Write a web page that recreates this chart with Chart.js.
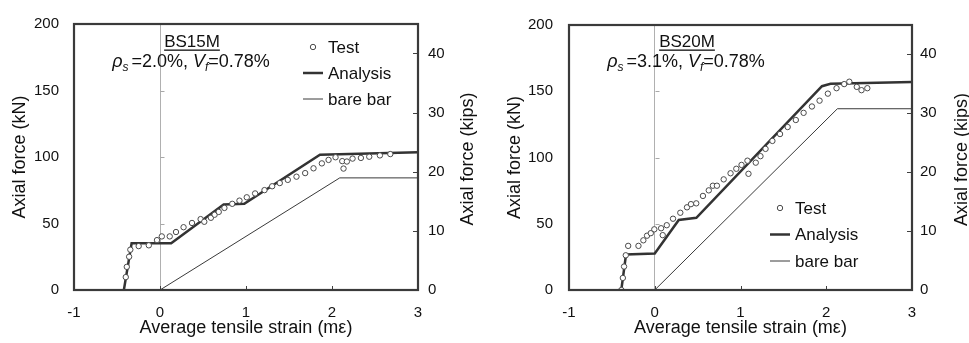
<!DOCTYPE html>
<html><head><meta charset="utf-8">
<script src="https://cdn.jsdelivr.net/npm/chart.js@4.4.1/dist/chart.umd.min.js"></script>
<style>
html,body{margin:0;padding:0;background:#fff;}
#wrap{display:flex;width:969px;height:343px;}
canvas{display:block;}
</style>
</head><body>
<div id="wrap"><canvas id="c1" width="484" height="343"></canvas><canvas id="c2" width="485" height="343"></canvas></div>
<script>
// ---------- data ----------
const strainRange = [-1, 3];          // x axis (mε)
const kNRange = [0, 200];             // left axis (kN)
const KN_PER_KIP = 4.448;             // right axis (kips) = kN / 4.448

const seriesNames = ['Test', 'Analysis', 'bare bar'];

// BS15M
const bs15TestX = [-0.398,-0.386,-0.359,-0.345,-0.248,-0.130,-0.035,0.021,0.113,0.186,0.274,0.372,0.472,0.515,0.592,0.635,0.683,0.749,0.840,0.924,1.009,1.106,1.215,1.304,1.393,1.486,1.587,1.688,1.785,1.882,1.960,2.041,2.119,2.134,2.173,2.239,2.336,2.433,2.557,2.678];
const bs15TestY = [9.7,17.4,25.0,30.3,33.0,33.6,37.5,40.3,40.3,43.6,47.2,50.4,53.3,51.3,54.3,56.6,58.7,61.7,64.8,67.2,69.7,72.6,75.1,78.0,80.4,82.8,85.2,87.9,91.5,95.2,97.8,99.8,96.9,91.3,96.6,98.8,99.3,100.2,101.2,102.2];
const bs15AnaX = [-0.42,-0.33,0.13,0.74,0.98,1.86,3.0];
const bs15AnaY = [0,35.1,35.1,64.3,64.8,101.7,103.6];
const bs15BareX = [0,2.09,3.0];
const bs15BareY = [0,84.3,84.3];

// BS20M
const bs20TestX = [-0.389,-0.372,-0.358,-0.338,-0.310,-0.190,-0.133,-0.090,-0.046,-0.005,0.074,0.093,0.140,0.213,0.298,0.376,0.422,0.484,0.562,0.630,0.678,0.725,0.804,0.884,0.951,1.012,1.081,1.093,1.178,1.233,1.292,1.372,1.461,1.550,1.645,1.736,1.833,1.922,2.019,2.120,2.209,2.269,2.356,2.411,2.479];
const bs20TestY = [0,9.1,17.7,26.2,33.3,33.3,37.5,41.0,42.9,45.8,46.6,41.4,48.9,53.8,58.3,62.4,64.8,65.4,71.0,75.2,78.7,78.7,83.5,88.1,91.5,94.4,97.6,87.7,96.1,101.0,106.5,112.5,117.7,123.0,128.3,133.7,138.5,142.9,148.2,152.3,155.4,157.2,153.3,150.8,152.3];
const bs20AnaX = [-0.39,-0.335,0.0,0.28,0.485,1.95,2.05,3.0];
const bs20AnaY = [0,26.8,27.5,52.8,54.5,153.8,155.6,156.9];
const bs20BareX = [0,2.13,3.0];
const bs20BareY = [0,136.8,136.8];

// ---------- helpers ----------
const FONT = '"Liberation Sans", Arial, Helvetica, sans-serif';
const pts = (xs, ys) => xs.map((x, i) => ({x, y: ys[i]}));

const decor = {
  id: 'decor',
  afterDraw(chart, args, o) {
    const ctx = chart.ctx, a = chart.chartArea;
    const xs = chart.scales.x, ys = chart.scales.y, y2 = chart.scales.y2;
    ctx.save();
    // inward ticks on x axis
    ctx.strokeStyle = '#404040'; ctx.lineWidth = 1;
    ctx.beginPath();
    xs.ticks.forEach(t => { const px = Math.round(xs.getPixelForValue(t.value)) + 0.5; ctx.moveTo(px, a.bottom); ctx.lineTo(px, a.bottom - 4); });
    ctx.stroke();
    // ticks on zero line
    const x0 = Math.round(xs.getPixelForValue(0)) + 0.5;
    ctx.strokeStyle = '#a8a8a8';
    ctx.beginPath();
    ys.ticks.forEach(t => { const py = Math.round(ys.getPixelForValue(t.value)) + 0.5; ctx.moveTo(x0, py); ctx.lineTo(x0 + 4, py); });
    ctx.stroke();
    // inward ticks on right axis
    ctx.strokeStyle = '#404040';
    ctx.beginPath();
    y2.ticks.forEach(t => { const py = Math.round(y2.getPixelForValue(t.value)) + 0.5; ctx.moveTo(a.right, py); ctx.lineTo(a.right - 5, py); });
    ctx.stroke();
    // frame
    ctx.lineWidth = 2.2; ctx.strokeStyle = '#3a3a3a';
    ctx.strokeRect(a.left, a.top, a.right - a.left, a.bottom - a.top);
    // right axis title (reads bottom-to-top)
    ctx.save();
    ctx.fillStyle = '#111';
    ctx.font = '18px ' + FONT;
    ctx.translate(o.rightTitleX, (a.top + a.bottom) / 2 + 2);
    ctx.rotate(-Math.PI / 2);
    ctx.textAlign = 'center'; ctx.textBaseline = 'middle';
    ctx.fillText(o.rightTitle, 0, 0);
    ctx.restore();
    // annotation: specimen name (underlined)
    ctx.fillStyle = '#111';
    ctx.font = '17px ' + FONT;
    ctx.textAlign = 'center'; ctx.textBaseline = 'alphabetic';
    ctx.fillText(o.name, o.nameX, o.nameY);
    const w = ctx.measureText(o.name).width;
    ctx.fillRect(o.nameX - w / 2, o.nameY + 2.5, w, 1.3);
    // annotation: rich text line
    const segs = o.rich;
    const fontOf = s => (s.it ? 'italic ' : '') + (s.sub ? '12px ' : '18px ') + FONT;
    let total = 0;
    segs.forEach(s => { ctx.font = fontOf(s); total += ctx.measureText(s.t).width + (s.gap || 0); });
    let cx = o.richX - total / 2;
    ctx.textAlign = 'left';
    segs.forEach(s => { ctx.font = fontOf(s); ctx.fillText(s.t, cx, o.richY + (s.sub ? 4 : 0)); cx += ctx.measureText(s.t).width + (s.gap || 0); });
    // legend
    const ds = chart.data.datasets;
    ctx.font = '17px ' + FONT; ctx.textBaseline = 'middle'; ctx.textAlign = 'left';
    ds.forEach((d, i) => {
      const ly = o.legY + i * o.legDy;
      ctx.strokeStyle = d.borderColor;
      if (d.showLine === false) {
        ctx.lineWidth = 1; ctx.fillStyle = '#fff';
        ctx.beginPath(); ctx.arc(o.legX + 10, ly, 2.7, 0, Math.PI * 2); ctx.fill(); ctx.stroke();
      } else {
        ctx.lineWidth = d.borderWidth;
        ctx.beginPath(); ctx.moveTo(o.legX, ly); ctx.lineTo(o.legX + 20, ly); ctx.stroke();
      }
      ctx.fillStyle = '#111';
      ctx.fillText(d.label, o.legX + 25, ly + 1);
    });
    ctx.restore();
  }
};

function makeChart(id, d, lay) {
  return new Chart(document.getElementById(id), {
    type: 'scatter',
    data: {
      datasets: [
        { label: seriesNames[0], data: pts(d.tx, d.ty), showLine: false, pointRadius: 2.7, pointHoverRadius: 2.7,
          pointBorderWidth: 1, borderColor: '#4a4a4a', pointBorderColor: '#4a4a4a', pointBackgroundColor: '#fff', backgroundColor: '#fff' },
        { label: seriesNames[1], data: pts(d.ax, d.ay), showLine: true, borderColor: '#333', borderWidth: 2.5, pointRadius: 0, tension: 0 },
        { label: seriesNames[2], data: pts(d.bx, d.by), showLine: true, borderColor: '#3a3a3a', borderWidth: 1, pointRadius: 0, tension: 0 }
      ]
    },
    options: {
      responsive: false, animation: false, devicePixelRatio: 1,
      layout: { padding: { top: 15, left: 0, right: 0, bottom: 0 } },
      plugins: { legend: { display: false }, tooltip: { enabled: false }, decor: lay.decor },
      scales: {
        x: {
          type: 'linear', min: strainRange[0], max: strainRange[1],
          ticks: { stepSize: 1, color: '#111', font: { family: FONT, size: 15 }, padding: 14 },
          grid: { drawTicks: false, color: c => (c.tick && c.tick.value === 0) ? '#b0b0b0' : 'rgba(0,0,0,0)', lineWidth: 1 },
          border: { display: false },
          title: { display: true, text: 'Average tensile strain (mε)', color: '#111', font: { family: FONT, size: 18 }, padding: { top: 0, bottom: 4 } },
          afterFit: s => { s.height = 53; }
        },
        y: {
          type: 'linear', position: 'left', min: kNRange[0], max: kNRange[1],
          ticks: { stepSize: 50, color: '#111', font: { family: FONT, size: 15 }, padding: lay.yPad },
          grid: { display: false, drawTicks: false },
          border: { display: false },
          title: { display: true, text: 'Axial force (kN)', color: '#111', font: { family: FONT, size: 18 }, padding: { top: lay.yTitlePad, bottom: 0 } },
          afterFit: s => { s.width = lay.leftW; }
        },
        y2: {
          type: 'linear', position: 'right', min: kNRange[0] / KN_PER_KIP, max: kNRange[1] / KN_PER_KIP,
          ticks: { stepSize: 10, includeBounds: false, color: '#111', font: { family: FONT, size: 15 }, padding: lay.y2Pad },
          grid: { display: false, drawTicks: false },
          border: { display: false },
          afterFit: s => { s.width = lay.rightW; }
        }
      }
    },
    plugins: [decor]
  });
}

makeChart('c1',
  { tx: bs15TestX, ty: bs15TestY, ax: bs15AnaX, ay: bs15AnaY, bx: bs15BareX, by: bs15BareY },
  { leftW: 74, rightW: 66, yPad: 15, yTitlePad: 9, y2Pad: 10,
    decor: { rightTitle: 'Axial force (kips)', rightTitleX: 468,
      name: 'BS15M', nameX: 192, nameY: 47, richX: 191, richY: 67,
      rich: [{t:'ρ', it:true}, {t:'s', it:true, sub:true, gap:3}, {t:'=2.0%, '}, {t:'V', it:true}, {t:'f', it:true, sub:true}, {t:'=0.78%'}],
      legX: 303, legY: 47, legDy: 26 } });

makeChart('c2',
  { tx: bs20TestX, ty: bs20TestY, ax: bs20AnaX, ay: bs20AnaY, bx: bs20BareX, by: bs20BareY },
  { leftW: 85, rightW: 57, yPad: 16, yTitlePad: 20, y2Pad: 8,
    decor: { rightTitle: 'Axial force (kips)', rightTitleX: 478,
      name: 'BS20M', nameX: 203, nameY: 47, richX: 202, richY: 67,
      rich: [{t:'ρ', it:true}, {t:'s', it:true, sub:true, gap:3}, {t:'=3.1%, '}, {t:'V', it:true}, {t:'f', it:true, sub:true}, {t:'=0.78%'}],
      legX: 286, legY: 208, legDy: 26.5 } });
</script>
</body></html>
